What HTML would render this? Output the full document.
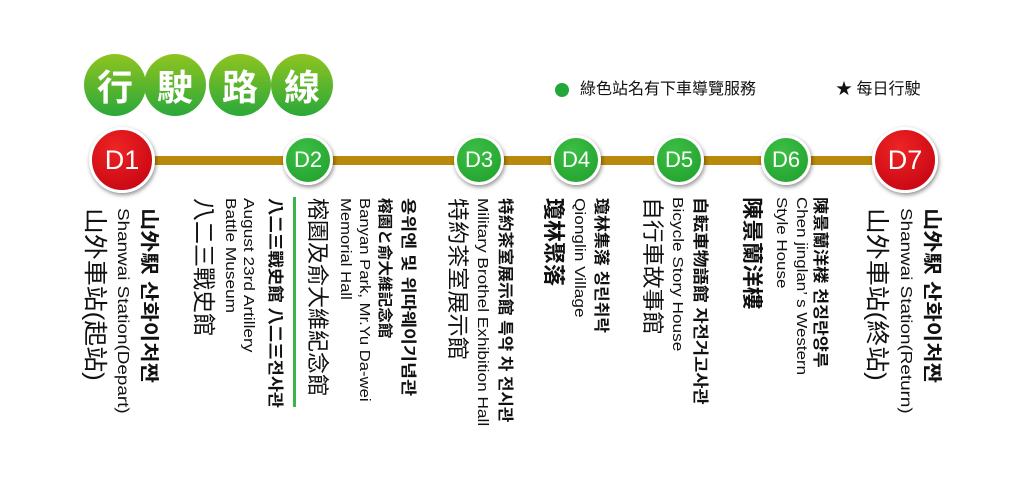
<!DOCTYPE html>
<html><head><meta charset="utf-8"><style>
html,body{margin:0;padding:0;background:#fff;}
#w{position:relative;width:1024px;height:482px;overflow:hidden;font-family:"Liberation Sans","Noto Sans CJK TC",sans-serif;color:#111;}
.v{position:absolute;writing-mode:vertical-rl;text-orientation:sideways;white-space:nowrap;line-height:1;transform-origin:top left;}
.b{font-weight:bold;}
.c{position:absolute;border-radius:50%;border:3px solid #fff;box-shadow:1px 2px 4px rgba(0,0,0,.45);color:#fff;text-align:center;font-family:"Liberation Sans",sans-serif;}
.g{background:radial-gradient(circle at 40% 30%,#3cbf45,#1f9e2c);}
.r{background:radial-gradient(circle at 40% 30%,#ee2424,#c00010);}
.t{position:absolute;width:62px;height:62px;border-radius:50%;background:linear-gradient(#8fc41f,#2aa83a);color:#fff;font-weight:bold;font-size:36px;line-height:62px;text-align:center;font-family:"Noto Sans CJK TC",sans-serif;}
</style></head><body><div id="w">
<div class="t" style="left:84px;top:54px">行</div>
<div class="t" style="left:144px;top:54px">駛</div>
<div class="t" style="left:209px;top:54px">路</div>
<div class="t" style="left:271px;top:54px">線</div>

<div style="position:absolute;left:555px;top:83px;width:14px;height:14px;border-radius:50%;background:#22a83a"></div>
<div style="position:absolute;left:580px;top:80px;font-size:16px;line-height:20px">綠色站名有下車導覽服務</div>
<div style="position:absolute;left:836px;top:80px;font-size:16px;line-height:20px">★ 每日行駛</div>

<div style="position:absolute;left:122px;top:156px;width:783px;height:9px;background:#b8890a"></div>
<div class="c r" style="left:89px;top:127px;width:60px;height:60px;line-height:60px;font-size:27px">D1</div>
<div class="c g" style="left:283px;top:135px;width:44px;height:44px;line-height:44px;font-size:22px">D2</div>
<div class="c g" style="left:454px;top:135px;width:44px;height:44px;line-height:44px;font-size:22px">D3</div>
<div class="c g" style="left:551px;top:135px;width:44px;height:44px;line-height:44px;font-size:22px">D4</div>
<div class="c g" style="left:654px;top:135px;width:44px;height:44px;line-height:44px;font-size:22px">D5</div>
<div class="c g" style="left:761px;top:135px;width:44px;height:44px;line-height:44px;font-size:22px">D6</div>
<div class="c r" style="left:872px;top:127px;width:60px;height:60px;line-height:60px;font-size:27px">D7</div>

<div class="v" style="left:82px;top:208px;font-size:24px;transform:scaleY(1.08)">山外車站(起站)</div>
<div class="v" style="left:114px;top:208px;font-size:16px;transform:scaleY(1.18)">Shanwai Station(Depart)</div>
<div class="v b" style="left:139px;top:208px;font-size:19px;transform:scaleY(1.17)">山外駅 산화이처짠</div>

<div class="v" style="left:192px;top:198px;font-size:23px">八二三戰史館</div>
<div class="v" style="left:221px;top:198px;font-size:15px;line-height:18px;transform:scaleY(1.15)">August 23rd Artillery<br>Battle Museum</div>
<div class="v b" style="left:266px;top:198px;font-size:16px;transform:scaleY(1.09)">八二三戰史館 八二三전사관</div>
<div style="position:absolute;left:293px;top:197px;width:3px;height:210px;background:#3cb44a"></div>
<div class="v" style="left:306px;top:198px;font-size:22px">榕園及俞大維紀念館</div>
<div class="v" style="left:336px;top:198px;font-size:15px;line-height:19px;transform:scaleY(1.11)">Banyan Park, Mr.Yu Da-wei<br>Memorial Hall</div>
<div class="v b" style="left:377px;top:198px;font-size:15px;transform:scaleY(1.04)">榕園と俞大維記念館</div>
<div class="v b" style="left:399px;top:198px;font-size:16px;transform:scaleY(1.16)">용위엔 및 위따웨이기념관</div>

<div class="v" style="left:446px;top:198px;font-size:22px;transform:scaleY(1.05)">特約茶室展示館</div>
<div class="v" style="left:475px;top:198px;font-size:15px;transform:scaleY(1.15)">Military Brothel Exhibition Hall</div>
<div class="v b" style="left:496px;top:198px;font-size:16px;transform:scaleY(1.05)">特約茶室展示館 특약 차 전시관</div>

<div class="v b" style="left:542px;top:198px;font-size:22px">瓊林聚落</div>
<div class="v" style="left:572px;top:198px;font-size:15px;transform:scaleY(1.15)">Qionglin Village</div>
<div class="v b" style="left:592px;top:198px;font-size:16px;transform:scaleY(1.06)">瓊林集落 칭린취락</div>

<div class="v" style="left:641px;top:197px;font-size:22px;transform:scaleY(1.04)">自行車故事館</div>
<div class="v" style="left:670px;top:197px;font-size:15px;transform:scaleY(1.15)">Bicycle Story House</div>
<div class="v b" style="left:691px;top:197px;font-size:16px;transform:scaleY(1.1)">自転車物語館 자전거고사관</div>

<div class="v b" style="left:741px;top:197px;font-size:21px;transform:scaleY(1.07)">陳景蘭洋樓</div>
<div class="v" style="left:771px;top:197px;font-size:15px;line-height:20px;transform:scaleY(1.13)">Chen jinglan’ s Western<br>Style House</div>
<div class="v b" style="left:811px;top:197px;font-size:16px;transform:scaleY(1.08)">陳景蘭洋楼 천징란양루</div>

<div class="v" style="left:864px;top:208px;font-size:24px;transform:scaleY(1.08)">山外車站(終站)</div>
<div class="v" style="left:897px;top:208px;font-size:16px;transform:scaleY(1.18)">Shanwai Station(Return)</div>
<div class="v b" style="left:922px;top:208px;font-size:19px;transform:scaleY(1.17)">山外駅 산화이처짠</div>
</div></body></html>
